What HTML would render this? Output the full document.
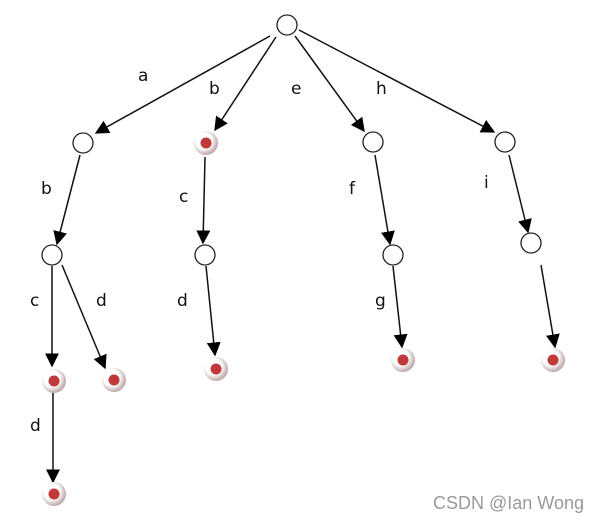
<!DOCTYPE html>
<html><head><meta charset="utf-8"><style>
html,body{margin:0;padding:0;background:#fff;}
svg{display:block}
text{font-family:"DejaVu Sans","Liberation Sans",sans-serif;font-size:17px;fill:#111}
</style></head><body>
<svg width="601" height="522" viewBox="0 0 601 522" xmlns="http://www.w3.org/2000/svg">
<defs>
<marker id="a2" viewBox="0 0 10 10" refX="9" refY="5" markerWidth="14" markerHeight="14" markerUnits="userSpaceOnUse" orient="auto">
<path d="M0,0 L10,5 L0,10 z" fill="#000"/></marker>
<radialGradient id="sh" cx="0.4" cy="0.4" r="0.6"><stop offset="0.55" stop-color="#fff"/><stop offset="1" stop-color="#bfa9a9"/></radialGradient>
</defs>
<g stroke="#111" stroke-width="1.5" fill="none" marker-end="url(#a2)">
<line x1="270" y1="36" x2="96" y2="133"/>
<line x1="276" y1="37" x2="215" y2="130"/>
<line x1="295" y1="36" x2="364" y2="131"/>
<line x1="299" y1="30" x2="494" y2="132"/>
<line x1="80" y1="155" x2="57" y2="244"/>
<line x1="205" y1="157" x2="203" y2="243"/>
<line x1="375" y1="155" x2="390" y2="244"/>
<line x1="509" y1="155" x2="528" y2="232"/>
<line x1="52" y1="266" x2="52" y2="366"/>
<line x1="62" y1="265" x2="105" y2="368"/>
<line x1="206" y1="266" x2="215" y2="355"/>
<line x1="393" y1="266" x2="402" y2="347"/>
<line x1="541" y1="265" x2="555" y2="347"/>
<line x1="53" y1="392" x2="53" y2="482"/>
</g>
<g fill="#fff" stroke="#222" stroke-width="1.3">
<circle cx="287" cy="25" r="10"/>
<circle cx="83" cy="143" r="10"/>
<circle cx="373" cy="142" r="10"/>
<circle cx="505" cy="142" r="10"/>
<circle cx="52" cy="255" r="10"/>
<circle cx="205" cy="255" r="10"/>
<circle cx="393" cy="255" r="10"/>
<circle cx="531" cy="243" r="10"/>
</g>
<g>
<g transform="translate(206,143)"><circle r="12" fill="url(#sh)"/><circle r="5.5" fill="#c0393b"/></g>
<g transform="translate(54,381)"><circle r="12" fill="url(#sh)"/><circle r="5.5" fill="#c0393b"/></g>
<g transform="translate(114,380)"><circle r="12" fill="url(#sh)"/><circle r="5.5" fill="#c0393b"/></g>
<g transform="translate(216,369)"><circle r="12" fill="url(#sh)"/><circle r="5.5" fill="#c0393b"/></g>
<g transform="translate(403,360)"><circle r="12" fill="url(#sh)"/><circle r="5.5" fill="#c0393b"/></g>
<g transform="translate(553,360)"><circle r="12" fill="url(#sh)"/><circle r="5.5" fill="#c0393b"/></g>
<g transform="translate(54,494)"><circle r="12" fill="url(#sh)"/><circle r="5.5" fill="#c0393b"/></g>
</g>
<text x="138" y="81">a</text>
<text x="209" y="94">b</text>
<text x="291" y="94">e</text>
<text x="376" y="94">h</text>
<text x="41" y="194">b</text>
<text x="179" y="202">c</text>
<text x="349" y="194">f</text>
<text x="484" y="188">i</text>
<text x="30" y="306">c</text>
<text x="96" y="306">d</text>
<text x="177" y="306">d</text>
<text x="375" y="306">g</text>
<text x="30" y="431">d</text>
<text x="433" y="509" style="font-family:'Liberation Sans',sans-serif;font-size:18px;fill:#999">CSDN @Ian Wong</text>
</svg>
</body></html>
